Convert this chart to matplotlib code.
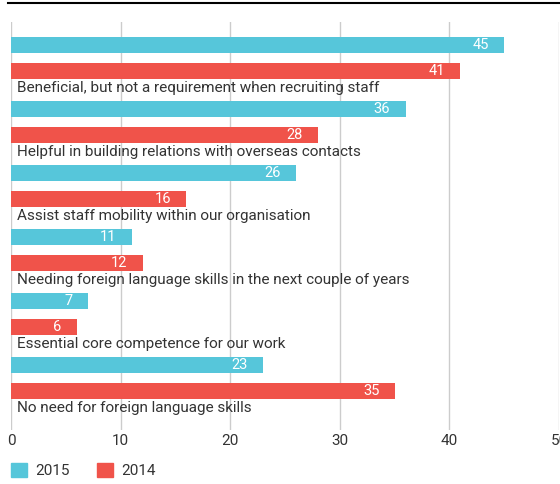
#!/usr/bin/env python3

import numpy as np
from matplotlib import pyplot as plt
from matplotlib.lines import Line2D
from matplotlib.patches import Patch

# Survey answers, top to bottom
categories = [
    'Beneficial, but not a requirement when recruiting staff',
    'Helpful in building relations with overseas contacts',
    'Assist staff mobility within our organisation',
    'Needing foreign language skills in the next couple of years',
    'Essential core competence for our work',
    'No need for foreign language skills',
]
values_2015 = [45, 36, 26, 11, 7, 23]
values_2014 = [41, 28, 16, 12, 6, 35]
x_ticks = [0, 10, 20, 30, 40, 50]

color_2015 = '#56c6da'
color_2014 = '#f0534a'
text_color = '#333333'

plt.rcParams['font.family'] = ['Roboto', 'DejaVu Sans']

fig = plt.figure(figsize=(5.6, 4.84), dpi=100)
ax = fig.add_axes([11 / 560, 1 - 430 / 484, 548 / 560, 408 / 484])

# One unit on y is one category group
pos = np.arange(len(categories))
off_2014 = 26 / 64
bar_h = 16 / 64

ax.barh(pos, values_2015, height=bar_h, color=color_2015, zorder=2)
ax.barh(pos + off_2014, values_2014, height=bar_h, color=color_2014, zorder=2)

# Value labels inside bar ends
for y, v in zip(pos, values_2015):
    ax.annotate(str(v), (v, y), xytext=(-11, 0), textcoords='offset points',
                ha='right', va='center', color='white', fontsize=10.5)
for y, v in zip(pos + off_2014, values_2014):
    ax.annotate(str(v), (v, y), xytext=(-11, 0), textcoords='offset points',
                ha='right', va='center', color='white', fontsize=10.5)

# Category names under each pair of bars
for y, name in zip(pos + 43 / 64, categories):
    ax.annotate(name, (0, y), xytext=(4.5, 0), textcoords='offset points',
                ha='left', va='center', color=text_color, fontsize=11)

ax.set_xlim(0, 50)
ax.set_ylim((430 - 45) / 64, (22 - 45) / 64)
ax.set_xticks(x_ticks)
ax.set_yticks([])
ax.grid(axis='x', color='#cccccc', linewidth=1, zorder=0)
for s in ax.spines.values():
    s.set_visible(False)
ax.tick_params(axis='x', length=0, pad=3, labelsize=11, labelcolor=text_color)
for lab in ax.get_xticklabels():
    lab.set_clip_on(False)

# Rule across the top
fig.add_artist(Line2D([8 / 560, 1], [1 - 3 / 484, 1 - 3 / 484],
                      color='black', linewidth=1.5))

handles = [Patch(color=color_2015), Patch(color=color_2014)]
fig.legend(handles, ['2015', '2014'], loc='lower left',
           bbox_to_anchor=(-3 / 560, -8 / 484), ncol=2, frameon=False,
           handlelength=1.05, handleheight=1.05, handletextpad=0.55,
           columnspacing=1.8, fontsize=11, labelcolor=text_color,
           borderaxespad=0.5)

plt.savefig('out.png', dpi=100)
